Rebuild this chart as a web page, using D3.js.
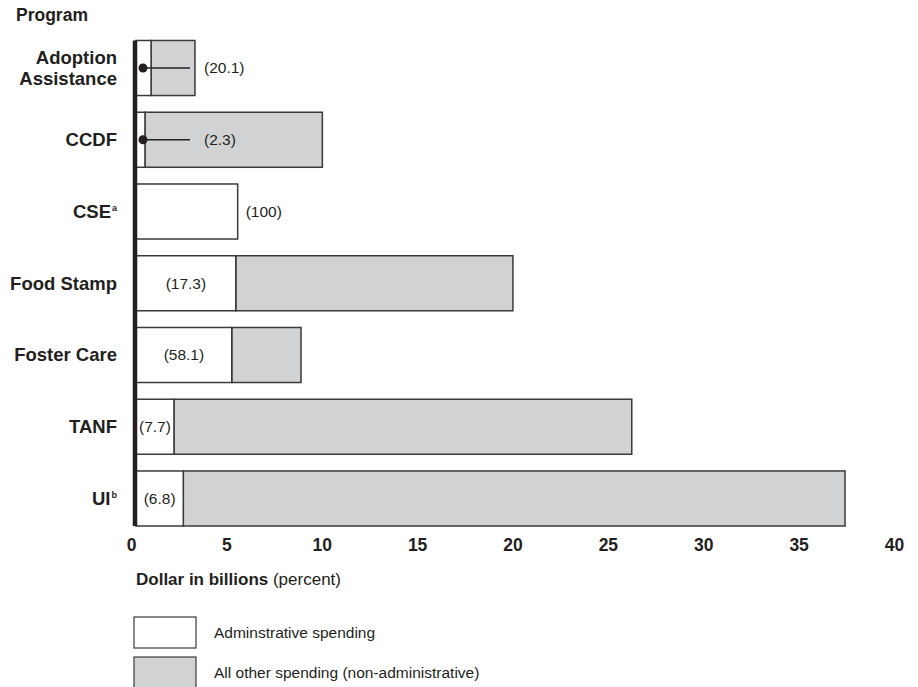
<!DOCTYPE html>
<html><head><meta charset="utf-8">
<script src="https://cdn.jsdelivr.net/npm/d3@7/dist/d3.min.js"></script>
<style>
html,body{margin:0;padding:0;background:#fff;}
text{font-family:"Liberation Sans",Arial,Helvetica,sans-serif;fill:#231f20;}
</style></head>
<body><svg id="chart" width="918" height="687"></svg>
<script>
const programs = ["Adoption Assistance","CCDF","CSE","Food Stamp","Foster Care","TANF","UI"];
const programNotes = ["","","a","","","","b"];
const adminSpending = [0.79, 0.47, 5.33, 5.23, 5.02, 1.99, 2.48];
const totalSpending = [3.09, 9.77, 5.33, 19.76, 8.65, 25.99, 37.17];
const adminPercent = ["20.1","2.3","100","17.3","58.1","7.7","6.8"];
const xTicks = [0,5,10,15,20,25,30,35,40];
const legendLabels = ["Adminstrative spending","All other spending (non-administrative)"];

const svg = d3.select("#chart");
const x = d3.scaleLinear().domain([0,40]).range([136, 899]);
const y = d3.scaleBand().domain(programs).range([32.1, 534.4]).paddingInner(0.233).paddingOuter(0.117);
const colors = {admin:"#ffffff", other:"#d1d2d4", stroke:"#3a3a3a"};

const rows = programs.map((p,i)=>({p, note:programNotes[i], admin:adminSpending[i], total:totalSpending[i], pct:adminPercent[i]}));

// Title
svg.append("text").attr("x",16).attr("y",21).attr("font-size",17.5).attr("font-weight","bold").text("Program");

// other spending bars
svg.selectAll("rect.other").data(rows.filter(d=>d.total>d.admin)).join("rect")
  .attr("class","other")
  .attr("x",d=>x(d.admin)).attr("width",d=>x(d.total)-x(d.admin))
  .attr("y",d=>y(d.p)).attr("height",y.bandwidth())
  .attr("fill",colors.other).attr("stroke",colors.stroke).attr("stroke-width",1.5);

// admin bars
svg.selectAll("rect.admin").data(rows).join("rect")
  .attr("class","admin")
  .attr("x",x(0)).attr("width",d=>x(d.admin)-x(0))
  .attr("y",d=>y(d.p)).attr("height",y.bandwidth())
  .attr("fill",colors.admin).attr("stroke",colors.stroke).attr("stroke-width",1.5);

// thick axis line
svg.append("line").attr("x1",x(0)-1).attr("x2",x(0)-1)
  .attr("y1",y(programs[0])).attr("y2",y(programs[programs.length-1])+y.bandwidth())
  .attr("stroke","#231f20").attr("stroke-width",4.5);

// value labels
rows.forEach(d=>{
  const cy = y(d.p)+y.bandwidth()/2;
  const w = x(d.admin)-x(0);
  const lbl = "(" + d.pct + ")";
  if (d.admin >= d.total) {
    svg.append("text").attr("x",x(d.total)+8).attr("y",cy).attr("dy","0.35em")
      .attr("font-size",15.5).text(lbl);
  } else if (w < 25) {
    svg.append("line").attr("x1",x(0)+7).attr("x2",x(0)+54).attr("y1",cy).attr("y2",cy)
      .attr("stroke","#231f20").attr("stroke-width",1.5);
    svg.append("circle").attr("cx",x(0)+7).attr("cy",cy).attr("r",4.5).attr("fill","#231f20");
    svg.append("text").attr("x",x(0)+68).attr("y",cy).attr("dy","0.35em")
      .attr("font-size",15.5).text(lbl);
  } else {
    svg.append("text").attr("x",(x(0)+x(d.admin))/2).attr("y",cy).attr("dy","0.35em")
      .attr("text-anchor","middle").attr("font-size",15.5).text(lbl);
  }
});

// category labels
rows.forEach(d=>{
  const cy = y(d.p)+y.bandwidth()/2;
  const words = d.p === "Adoption Assistance" ? ["Adoption","Assistance"] : [d.p];
  const t = svg.append("text").attr("text-anchor","end").attr("font-size",18.5).attr("font-weight","bold");
  words.forEach((w,k)=>{
    t.append("tspan").attr("x",117).attr("y",cy + (k-(words.length-1)/2)*21).attr("dy","0.35em").text(w);
  });
  if (d.note) {
    t.append("tspan").attr("font-size",9).attr("dy","-0.8em").attr("dx",1).text(d.note);
  }
});

// x axis
const ax = svg.append("g").attr("transform","translate(0,533)")
  .call(d3.axisBottom(x).tickValues(xTicks).tickSize(0).tickFormat(d3.format("d")));
ax.select(".domain").remove();
ax.selectAll("text").attr("font-size",17.5).attr("font-weight","bold").attr("dx",-5)
  .attr("dy","0.71em").attr("y",6)
  .style("font-family","'Liberation Sans',Arial,sans-serif").attr("fill","#231f20");

// axis title
const at = svg.append("text").attr("x",136).attr("y",585).attr("font-size",17);
at.append("tspan").attr("font-weight","bold").text("Dollar in billions");
at.append("tspan").text(" (percent)");

// legend
const legendFills = [colors.admin, colors.other];
legendLabels.forEach((l,i)=>{
  const ly = 617 + i*40;
  svg.append("rect").attr("x",134).attr("y",ly).attr("width",62).attr("height",31)
    .attr("fill",legendFills[i]).attr("stroke",colors.stroke).attr("stroke-width",1.2);
  svg.append("text").attr("x",214).attr("y",ly+15.5).attr("dy","0.35em").attr("font-size",15.5).text(l);
});
</script></body></html>
